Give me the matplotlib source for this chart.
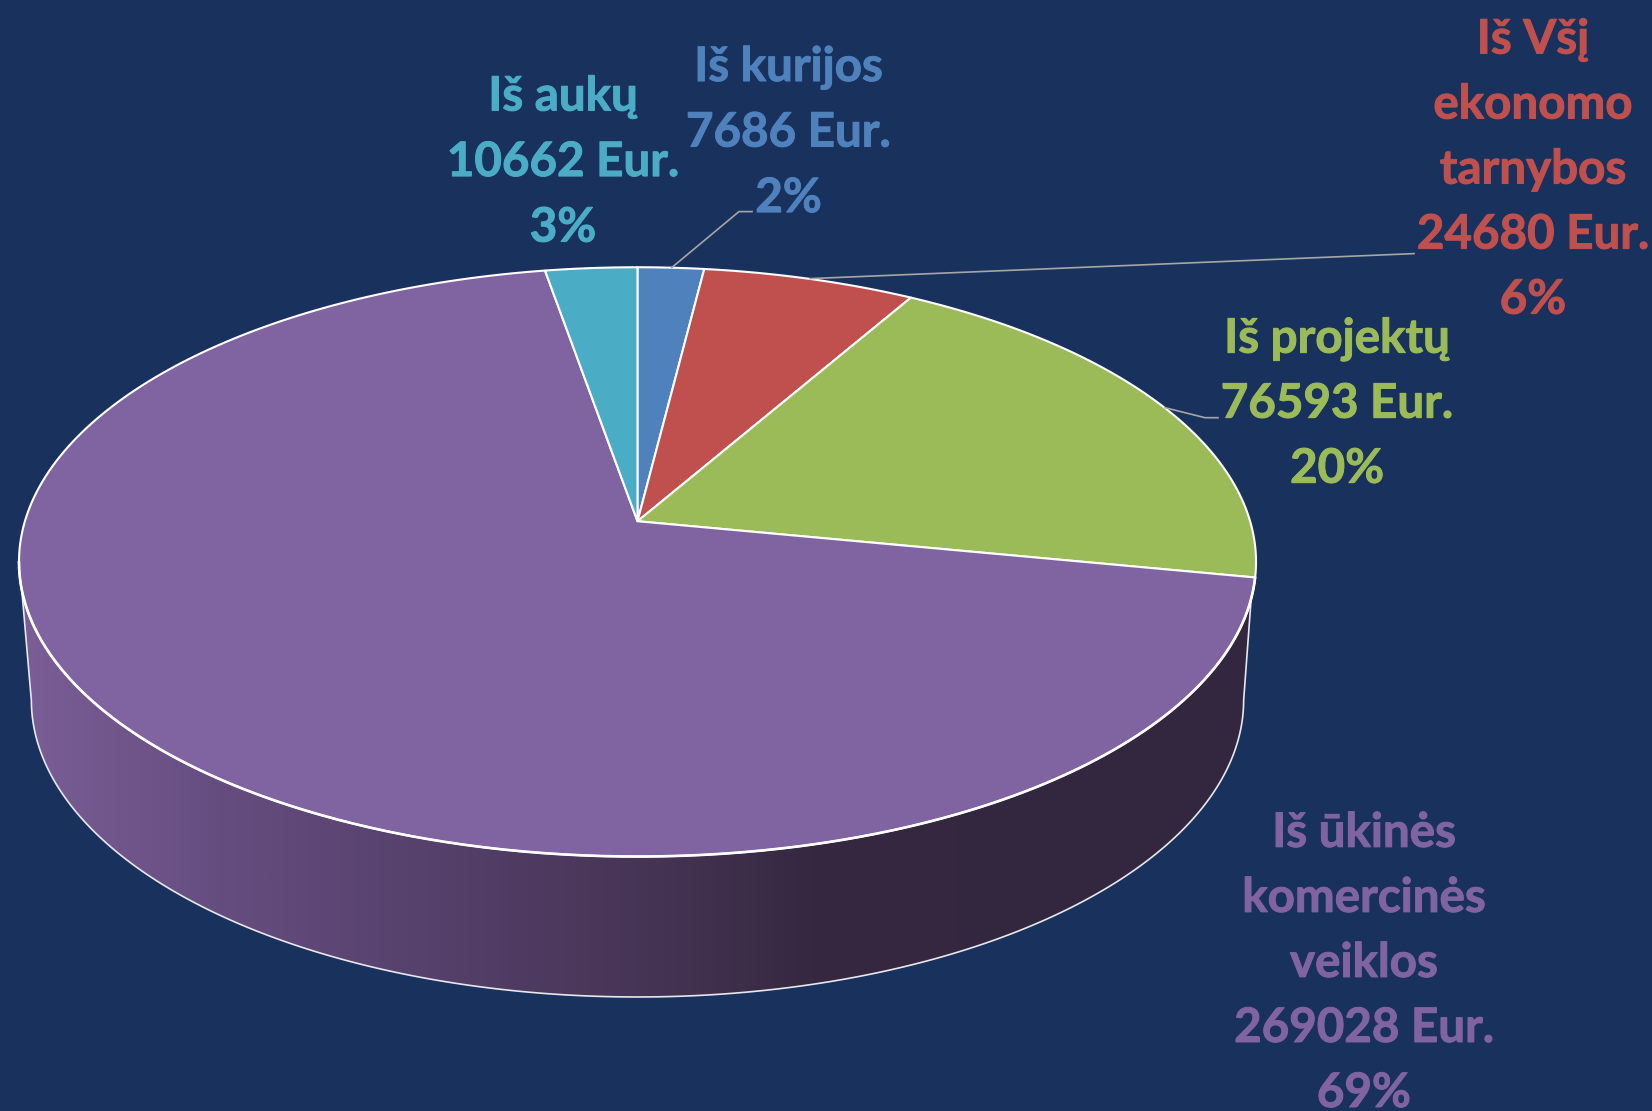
#!/usr/bin/env python3
"""Perspective 3D pie of income sources (Eur.)."""

import numpy as np
import matplotlib
matplotlib.use('Agg')
import matplotlib.pyplot as plt
import matplotlib.patheffects as pe
from matplotlib.colors import LinearSegmentedColormap
from matplotlib.patches import Polygon

plt.rcParams['font.family'] = ['Lato', 'DejaVu Sans']

# ── Data (clockwise from 12 o'clock) ──
amounts = [7686, 24680, 76593, 269028, 10662]
names = [
    ['Iš kurijos'],
    ['Iš Všį', 'ekonomo', 'tarnybos'],
    ['Iš projektų'],
    ['Iš ūkinės', 'komercinės', 'veiklos'],
    ['Iš aukų'],
]
colors = ['#4F81BD', '#C0504D', '#9BBB59', '#8064A2', '#4BACC6']

# ── Layout, in reference pixels ──
bg = '#19315D'
cx, cy = 637.5, 521.5
A, B, k = 612.6, 288.9, 0.138    # projection of the unit disc
depth = 137.7                    # lower rim offset
shrink_x, shrink_y = 0.98, 1.008
font_px = 47.5
label_x = [788.5, 1533, 1337, 1364, 563]
label_y = [81.5, 54, 353, 847, 111]
line_step = [65.5, 65, 65, 65, 65.5]


def project(deg, lower=False):
    """Clockwise angle from the top -> pixel position on the pie rim."""
    t = np.radians(deg)
    x, y = np.sin(t), np.cos(t)
    w = 1 + k * y
    if lower:
        return cx + shrink_x * A * x / w, cy + depth - shrink_y * B * y / w
    return cx + A * x / w, cy - B * y / w


fig = plt.figure(figsize=(16.52, 11.115), dpi=100, facecolor=bg)
ax = fig.add_axes([0, 0, 1, 1])
ax.set_facecolor(bg)
ax.axis('off')

# ── Side wall ──
top_r = project(np.array([105.0]))
low = project(np.linspace(98, 262, 300), lower=True)
top_l = project(np.array([256.7]))
side_x = np.concatenate([top_r[0], low[0], top_l[0]])
side_y = np.concatenate([top_r[1], low[1], top_l[1]])
side = Polygon(np.column_stack([side_x, side_y]), closed=True,
               facecolor='none', edgecolor='#E8E8EC', lw=1.2, zorder=3)
shade = LinearSegmentedColormap.from_list('shade', [
    (0.0, '#7A5E96'), (0.16, '#664D80'), (0.34, '#54406A'),
    (0.52, '#453353'), (0.64, '#352840'), (1.0, '#32273F')])
grad = np.linspace(0, 1, 1300).reshape(1, -1)
img = ax.imshow(grad, cmap=shade, vmin=0, vmax=1, aspect='auto',
                extent=[20, 1258, 1111, 0], zorder=2)
ax.add_patch(side)
img.set_clip_path(side)

# ── Top wedges ──
total = sum(amounts)
edges = np.cumsum([0] + amounts) / total * 360
for start, end, col in zip(edges[:-1], edges[1:], colors):
    rx, ry = project(np.linspace(start, end, 240))
    ax.fill(np.r_[cx, rx], np.r_[cy, ry], facecolor=col, edgecolor='white',
            lw=1.5, joinstyle='round', zorder=4)

# heavier white line along the front of the top face
fx, fy = project(np.linspace(101, 262, 300))
ax.plot(fx, fy, color='white', lw=1.9, zorder=4.5)

# ── Leader lines ──
for lx, ly in [([671.7, 739, 752], [268, 212, 212]),
               ([810, 1414], [279, 254]),
               ([1165, 1205, 1218], [408, 418, 418])]:
    ax.plot(lx, ly, color='#A6A6A6', lw=1.2, zorder=5)

# ── Labels ──
for i, amount in enumerate(amounts):
    lines = names[i] + [f'{amount} Eur.', f'{round(100 * amount / total)}%']
    for j, line in enumerate(lines):
        ax.text(label_x[i], label_y[i] + j * line_step[i], line,
                color=colors[i], fontsize=font_px * 0.72, fontweight='bold',
                ha='center', va='baseline', zorder=6,
                path_effects=[pe.withStroke(linewidth=0.7, foreground=colors[i])])

ax.set_xlim(0, 1652)
ax.set_ylim(1111, 0)
fig.savefig('out.png', dpi=100, facecolor=bg)
